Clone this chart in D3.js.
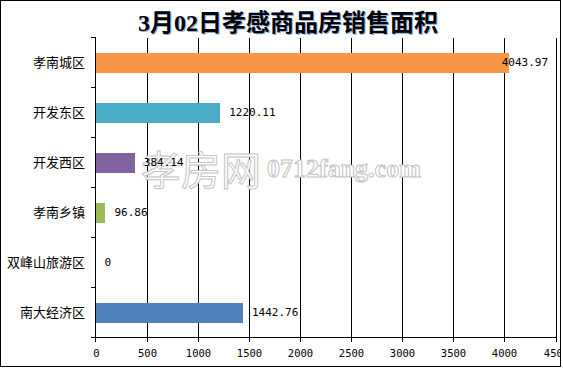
<!DOCTYPE html>
<html>
<head>
<meta charset="utf-8">
<script src="https://cdn.jsdelivr.net/npm/d3@7"></script>
<style>
  body { margin: 0; background: #fff; }
  svg { display: block; }
</style>
</head>
<body>
<svg id="chart" width="563" height="368"></svg>
<script>
// datos
const categorias = ['孝南城区', '开发东区', '开发西区', '孝南乡镇', '双峰山旅游区', '南大经济区'];
const valores = [4043.97, 1220.11, 384.14, 96.86, 0, 1442.76];
const colores = ['#F79646', '#4BACC6', '#8064A2', '#9BBB59', '#C0504D', '#4F81BD'];
const ticksX = [0, 500, 1000, 1500, 2000, 2500, 3000, 3500, 4000, 4500];
const titulo = '3月02日孝感商品房销售面积';

dibujar('#chart');

function dibujar(idsvg) {
    const svg = d3.select(idsvg);
    const W = 563, H = 368;
    const x0 = 95.5, x1 = 555.5, y0 = 37.5, y1 = 337.5;

    let escalaX = d3.scaleLinear().domain([0, 4500]).range([x0, x1]);
    let escalaY = d3.scaleBand().domain(categorias).range([y0, y1])
        .paddingInner(0.6).paddingOuter(0.3);
    const paso = escalaY.step();

    svg.append('rect').attr('x', 0).attr('y', 0).attr('width', W).attr('height', H).attr('fill', '#fff');

    let todo = svg.append('g').attr('id', 'todo');

    // lineas verticales
    todo.append('g').selectAll('line')
        .data(ticksX.filter(d => d > 0))
        .join('line')
        .attr('x1', d => Math.round(escalaX(d)) + 0.5)
        .attr('x2', d => Math.round(escalaX(d)) + 0.5)
        .attr('y1', y0).attr('y2', y1 + 4)
        .attr('stroke', '#000').attr('shape-rendering', 'crispEdges');

    // eje x
    todo.append('line').attr('x1', x0).attr('x2', x1 + 1).attr('y1', y1).attr('y2', y1)
        .attr('stroke', '#000').attr('shape-rendering', 'crispEdges');
    todo.append('line').attr('x1', x0).attr('x2', x0).attr('y1', y1).attr('y2', y1 + 4)
        .attr('stroke', '#000').attr('shape-rendering', 'crispEdges');

    // eje y con marcas entre categorias
    todo.append('line').attr('x1', x0).attr('x2', x0).attr('y1', y0).attr('y2', y1)
        .attr('stroke', '#000').attr('shape-rendering', 'crispEdges');
    todo.append('g').selectAll('line')
        .data(d3.range(categorias.length + 1))
        .join('line')
        .attr('x1', x0 - 5).attr('x2', x0)
        .attr('y1', i => y0 + i * paso).attr('y2', i => y0 + i * paso)
        .attr('stroke', '#000').attr('shape-rendering', 'crispEdges');

    // barras
    todo.append('g').selectAll('rect')
        .data(valores)
        .join('rect')
        .attr('x', x0 + 0.5)
        .attr('y', (d, i) => escalaY(categorias[i]))
        .attr('width', d => Math.max(0, escalaX(d) - x0 - 0.5))
        .attr('height', escalaY.bandwidth())
        .attr('fill', (d, i) => colores[i])
        .attr('shape-rendering', 'crispEdges');

    // marca de agua
    let marca = todo.append('g').attr('fill', '#fff').attr('stroke', '#c4c4c4').attr('stroke-width', 1);
    marca.append('text').attr('x', 141).attr('y', 185)
        .attr('font-family', '"Noto Sans CJK SC", sans-serif').attr('font-size', 40)
        .text('孝房网');
    marca.append('text').attr('x', 267).attr('y', 177)
        .attr('font-family', '"Liberation Serif", serif').attr('font-weight', 'bold').attr('font-size', 26)
        .text('0712fang.com');

    // etiquetas de valor
    const limite = 548;
    todo.append('g').selectAll('text')
        .data(valores)
        .join('text')
        .attr('y', (d, i) => escalaY(categorias[i]) + escalaY.bandwidth() / 2)
        .attr('dy', '0.35em')
        .attr('font-family', '"DejaVu Sans Mono", monospace')
        .attr('font-size', 11)
        .attr('fill', '#000')
        .text(d => d)
        .attr('x', function (d) {
            const ancho = this.getComputedTextLength();
            return Math.min(escalaX(d) + 9, limite - ancho);
        });

    // etiquetas eje x
    todo.append('g').selectAll('text')
        .data(ticksX)
        .join('text')
        .attr('x', d => Math.round(escalaX(d)) + 0.5)
        .attr('y', 353)
        .attr('dy', '0.35em')
        .attr('text-anchor', 'middle')
        .attr('font-family', '"DejaVu Sans Mono", monospace')
        .attr('font-size', 10.5)
        .text(d => d);

    // etiquetas categorias
    todo.append('g').selectAll('text')
        .data(categorias)
        .join('text')
        .attr('x', 85)
        .attr('y', d => escalaY(d) + escalaY.bandwidth() / 2)
        .attr('dy', '0.35em')
        .attr('text-anchor', 'end')
        .attr('font-family', '"Noto Sans CJK SC", sans-serif')
        .attr('font-size', 13)
        .text(d => d);

    // titulo con sombra
    [['#8db0d8', 1], ['#000', 0]].forEach(([c, off]) => {
        svg.append('text')
            .attr('x', 288 + off).attr('y', 31 + off)
            .attr('text-anchor', 'middle')
            .attr('font-family', '"Liberation Serif", "Noto Sans CJK SC", serif')
            .attr('font-weight', 'bold')
            .attr('font-size', 24)
            .attr('fill', c)
            .text(titulo);
    });

    // recorte del borde derecho y marco
    svg.append('rect').attr('x', 561).attr('y', 0).attr('width', 2).attr('height', H).attr('fill', '#fff');
    svg.append('rect').attr('x', 0.5).attr('y', 0.5).attr('width', 560).attr('height', 366)
        .attr('fill', 'none').attr('stroke', '#000').attr('shape-rendering', 'crispEdges');
}
</script>
</body>
</html>
